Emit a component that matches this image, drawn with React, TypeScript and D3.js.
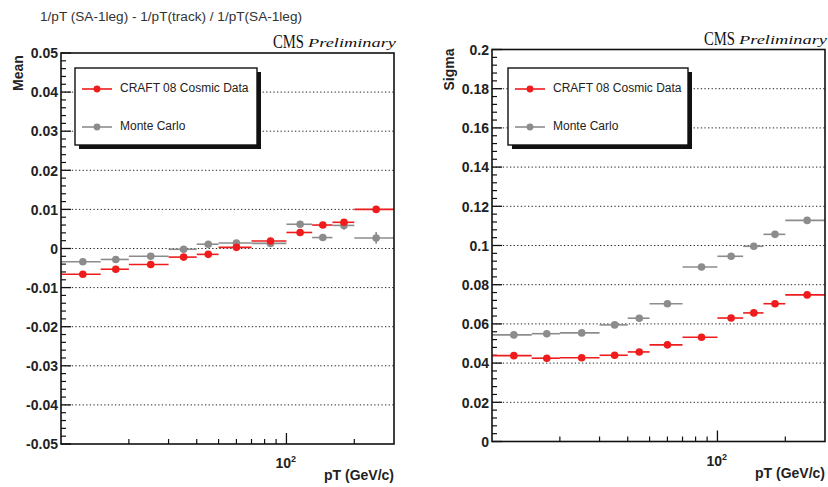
import React from "react";
import * as d3 from "d3";

// pT bin edges (GeV/c) shared by both panels
const PT_EDGES = [10, 15, 20, 30, 40, 50, 70, 100, 130, 160, 200, 300];

// Mean of the relative 1/pT residual
const MEAN_DATA = [-0.0066, -0.0053, -0.0041, -0.0022, -0.0015, 0.0003, 0.0019, 0.0041, 0.006, 0.0067, 0.01];
const MEAN_DATA_ERR = [0.0003, 0.0003, 0.0003, 0.0003, 0.0003, 0.0003, 0.0004, 0.0005, 0.0006, 0.0007, 0.0008];
const MEAN_MC = [-0.0034, -0.0028, -0.002, -0.0002, 0.0011, 0.0014, 0.0013, 0.0062, 0.0028, 0.0059, 0.0027];
const MEAN_MC_ERR = [0.0003, 0.0003, 0.0003, 0.0003, 0.0004, 0.0004, 0.0005, 0.0006, 0.0008, 0.0011, 0.0015];

// Sigma of the relative 1/pT residual
const SIGMA_DATA = [0.0438, 0.0425, 0.0427, 0.044, 0.0457, 0.0493, 0.0532, 0.063, 0.0656, 0.0703, 0.0748];
const SIGMA_DATA_ERR = [0.0004, 0.0004, 0.0004, 0.0004, 0.0004, 0.0005, 0.0005, 0.0006, 0.0007, 0.0008, 0.0009];
const SIGMA_MC = [0.0544, 0.055, 0.0554, 0.0595, 0.0629, 0.0703, 0.089, 0.0945, 0.0996, 0.1057, 0.1128];
const SIGMA_MC_ERR = [0.0004, 0.0004, 0.0004, 0.0004, 0.0005, 0.0005, 0.0006, 0.0007, 0.0008, 0.0009, 0.001];

// Axis ticks
const MEAN_TICKS = [-0.05, -0.04, -0.03, -0.02, -0.01, 0, 0.01, 0.02, 0.03, 0.04, 0.05];
const SIGMA_TICKS = [0, 0.02, 0.04, 0.06, 0.08, 0.1, 0.12, 0.14, 0.16, 0.18, 0.2];
const X_MINOR_TICKS = [20, 30, 40, 50, 60, 70, 80, 90, 200];
const X_MAJOR_TICKS = [100];

const DATA_NAME = "CRAFT 08 Cosmic Data";
const MC_NAME = "Monte Carlo";
const TITLE = "1/pT (SA-1leg) - 1/pT(track) / 1/pT(SA-1leg)";

const RED = "#ee1c1c";
const GREY = "#8c8c8c";
const SANS = "'Liberation Sans', Arial, sans-serif";
const SERIF = "'Liberation Serif', 'Times New Roman', serif";

type Series = { name: string; values: number[]; errs: number[]; color: string };

type PanelProps = {
  frame: { x0: number; x1: number; y0: number; y1: number };
  yDomain: [number, number];
  yTicks: number[];
  yMinorPerMajor: number;
  yLabel: string;
  legend: { x: number; y: number; w: number; h: number };
  drawOrder: Series[];
  legendOrder: Series[];
};

function fmt(v: number) {
  return String(+v.toFixed(4));
}

function Panel({ frame, yDomain, yTicks, yMinorPerMajor, yLabel, legend, drawOrder, legendOrder }: PanelProps) {
  const { x0, x1, y0, y1 } = frame;
  const x = d3.scaleLog().domain([PT_EDGES[0], PT_EDGES[PT_EDGES.length - 1]]).range([x0, x1]);
  const y = d3.scaleLinear().domain(yDomain).range([y1, y0]);

  const step = yTicks[1] - yTicks[0];
  const minor: number[] = [];
  for (let i = 0; i < yTicks.length - 1; i++) {
    for (let k = 1; k < yMinorPerMajor; k++) minor.push(yTicks[i] + (step * k) / yMinorPerMajor);
  }

  const centers = PT_EDGES.slice(0, -1).map((e, i) => (e + PT_EDGES[i + 1]) / 2);
  const gridTicks = yTicks.filter((t) => t > yDomain[0] + 1e-9 && t < yDomain[1] - 1e-9);

  return (
    <g>
      {/* dotted horizontal grid */}
      {gridTicks.map((t) => (
        <line
          key={"g" + t}
          x1={x0}
          x2={x1}
          y1={y(t)}
          y2={y(t)}
          stroke="#222"
          strokeWidth={1}
          strokeDasharray="1.3 2.3"
        />
      ))}

      {/* y ticks */}
      {yTicks.map((t) => (
        <line key={"yt" + t} x1={x0} x2={x0 + 10} y1={y(t)} y2={y(t)} stroke="#111" strokeWidth={1.3} />
      ))}
      {minor.map((t) => (
        <line key={"ym" + t} x1={x0} x2={x0 + 5} y1={y(t)} y2={y(t)} stroke="#111" strokeWidth={1.2} />
      ))}
      {yTicks.map((t) => (
        <text
          key={"yl" + t}
          x={x0 - 3}
          y={y(t) + 1.5}
          textAnchor="end"
          dominantBaseline="middle"
          fontFamily={SANS}
          fontWeight="bold"
          fontSize={14}
          fill="#222"
        >
          {fmt(t)}
        </text>
      ))}

      {/* x ticks on log axis */}
      {X_MINOR_TICKS.map((t) => (
        <line key={"xm" + t} x1={x(t)} x2={x(t)} y1={y1} y2={y1 - 5} stroke="#111" strokeWidth={1.2} />
      ))}
      {X_MAJOR_TICKS.map((t) => (
        <line key={"xM" + t} x1={x(t)} x2={x(t)} y1={y1} y2={y1 - 11} stroke="#111" strokeWidth={1.3} />
      ))}
      {X_MAJOR_TICKS.map((t) => (
        <text
          key={"xl" + t}
          x={x(t) - 11}
          y={y1 + 24}
          fontFamily={SANS}
          fontWeight="bold"
          fontSize={14}
          fill="#222"
        >
          {"10"}
          <tspan dy={-6} fontSize={9}>
            {String(Math.round(Math.log10(t)))}
          </tspan>
        </text>
      ))}

      {/* axis titles */}
      <text
        x={x1}
        y={y1 + 36}
        textAnchor="end"
        fontFamily={SANS}
        fontWeight="bold"
        fontSize={14}
        fill="#222"
      >
        pT (GeV/c)
      </text>
      <text
        transform={`translate(${x0 - 42},${y0 + 20}) rotate(-90)`}
        textAnchor="middle"
        dominantBaseline="middle"
        fontFamily={SANS}
        fontWeight="bold"
        fontSize={14}
        fill="#222"
      >
        {yLabel}
      </text>

      {/* CMS Preliminary */}
      <text
        x={x1 - 121}
        y={y0 - 5}
        fontFamily={SERIF}
        fontSize={18}
        fill="#111"
        textLength={31}
        lengthAdjust="spacingAndGlyphs"
      >
        CMS
      </text>
      <text
        x={x1 - 86}
        y={y0 - 6}
        fontFamily={SERIF}
        fontStyle="italic"
        fontSize={13}
        fill="#111"
        textLength={88}
        lengthAdjust="spacingAndGlyphs"
      >
        Preliminary
      </text>

      {/* points with error bars */}
      {drawOrder.map((s) => (
        <g key={"s" + s.name}>
          {s.values.map((v, i) => (
            <g key={i}>
              <line
                x1={x(PT_EDGES[i])}
                x2={x(PT_EDGES[i + 1])}
                y1={y(v)}
                y2={y(v)}
                stroke={s.color}
                strokeWidth={1.6}
              />
              <line
                x1={x(centers[i])}
                x2={x(centers[i])}
                y1={y(v - s.errs[i])}
                y2={y(v + s.errs[i])}
                stroke={s.color}
                strokeWidth={1.6}
              />
              <circle cx={x(centers[i])} cy={y(v)} r={3.8} fill={s.color} />
            </g>
          ))}
        </g>
      ))}

      {/* frame */}
      <rect x={x0} y={y0} width={x1 - x0} height={y1 - y0} fill="none" stroke="#111" strokeWidth={1.6} />

      {/* legend */}
      <rect x={legend.x + 4} y={legend.y + 4} width={legend.w} height={legend.h} fill="#111" />
      <rect
        x={legend.x}
        y={legend.y}
        width={legend.w}
        height={legend.h}
        fill="#fff"
        stroke="#111"
        strokeWidth={1.4}
      />
      {legendOrder.map((s, si) => {
        const ly = legend.y + 21 + si * 38;
        return (
          <g key={"l" + s.name}>
            <line x1={legend.x + 7} x2={legend.x + 37} y1={ly} y2={ly} stroke={s.color} strokeWidth={1.6} />
            <circle cx={legend.x + 22} cy={ly} r={3.4} fill={s.color} />
            <text
              x={legend.x + 45}
              y={ly}
              dominantBaseline="middle"
              fontFamily={SANS}
              fontSize={12}
              fill="#222"
            >
              {s.name}
            </text>
          </g>
        );
      })}
    </g>
  );
}

export default function App() {
  const meanData: Series = { name: DATA_NAME, values: MEAN_DATA, errs: MEAN_DATA_ERR, color: RED };
  const meanMc: Series = { name: MC_NAME, values: MEAN_MC, errs: MEAN_MC_ERR, color: GREY };
  const sigmaData: Series = { name: DATA_NAME, values: SIGMA_DATA, errs: SIGMA_DATA_ERR, color: RED };
  const sigmaMc: Series = { name: MC_NAME, values: SIGMA_MC, errs: SIGMA_MC_ERR, color: GREY };

  return (
    <svg
      width={828}
      height={487}
      style={{ position: "absolute", left: 0, top: 0, background: "#fff" }}
    >
      <rect width={828} height={487} fill="#fff" />
      <text
        x={40}
        y={21}
        fontFamily={SANS}
        fontSize={12}
        fill="#333"
        textLength={262}
        lengthAdjust="spacingAndGlyphs"
      >
        {TITLE}
      </text>
      <Panel
        frame={{ x0: 61, x1: 394, y0: 53, y1: 444 }}
        yDomain={[-0.05, 0.05]}
        yTicks={MEAN_TICKS}
        yMinorPerMajor={5}
        yLabel="Mean"
        legend={{ x: 75, y: 68, w: 182, h: 77 }}
        drawOrder={[meanMc, meanData]}
        legendOrder={[meanData, meanMc]}
      />
      <Panel
        frame={{ x0: 492, x1: 825, y0: 49.5, y1: 441.5 }}
        yDomain={[0, 0.2]}
        yTicks={SIGMA_TICKS}
        yMinorPerMajor={5}
        yLabel="Sigma"
        legend={{ x: 508, y: 68, w: 180, h: 77 }}
        drawOrder={[sigmaMc, sigmaData]}
        legendOrder={[sigmaData, sigmaMc]}
      />
    </svg>
  );
}
